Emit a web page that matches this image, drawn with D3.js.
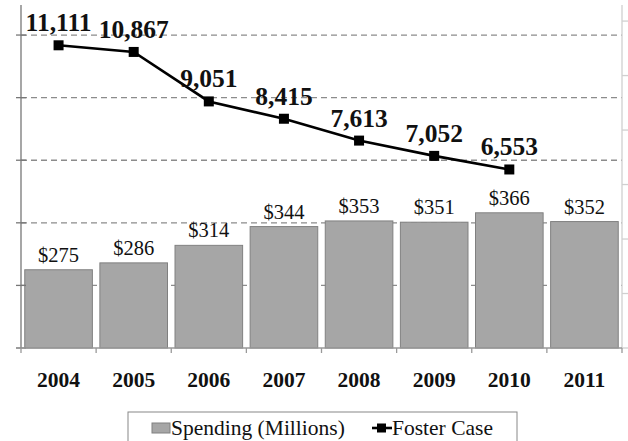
<!DOCTYPE html>
<html><head><meta charset="utf-8">
<script src="https://cdn.jsdelivr.net/npm/d3@7"></script>
<style>body{margin:0;background:#fff}svg{display:block}
svg text{font-family:"Liberation Serif","Times New Roman",Tinos,"DejaVu Serif",serif}</style>
</head><body><svg id="c" width="628" height="441"></svg>
<script>
const years = ["2004","2005","2006","2007","2008","2009","2010","2011"];
const spending = [275, 286, 314, 344, 353, 351, 366, 352];
const spendingLabels = ["$275","$286","$314","$344","$353","$351","$366","$352"];
const fosterYears = ["2004","2005","2006","2007","2008","2009","2010"];
const fosterCases = [11111, 10867, 9051, 8415, 7613, 7052, 6553];
const leftTicks = [150, 250, 350, 450, 550, 650];
const rightTicks = [0, 2000, 4000, 6000, 8000, 10000, 12000];
const legendLabels = ["Spending (Millions)", "Foster Case"];

const svg = d3.select("#c");
const L = 21, R = 622, B = 348, T = 5;

const x = d3.scaleBand().domain(years).range([L, R]).paddingInner(0.1).paddingOuter(0.05);
const yL = d3.scaleLinear().domain([150, 698]).range([B, T]);
const yR = d3.scaleLinear().domain([0, 12590]).range([B, T]);

// gridlines
svg.append("g").selectAll("line").data(leftTicks.filter(d => d > 150)).join("line")
  .attr("x1", L).attr("x2", R).attr("y1", d => yL(d)).attr("y2", d => yL(d))
  .attr("stroke", "#8c8c8c").attr("stroke-width", 1.3).attr("stroke-dasharray", "6,4");

// bars
svg.append("g").selectAll("rect").data(spending).join("rect")
  .attr("x", (d, i) => x(years[i])).attr("width", x.bandwidth())
  .attr("y", d => yL(d)).attr("height", d => B - yL(d))
  .attr("fill", "#a6a6a6").attr("stroke", "#808080").attr("stroke-width", 1);

// left axis
const gl = svg.append("g");
gl.append("line").attr("x1", L).attr("x2", L).attr("y1", T).attr("y2", B).attr("stroke", "#777").attr("stroke-width", 1.3);
gl.selectAll("line.t").data(leftTicks).join("line").attr("class", "t")
  .attr("x1", L - 5).attr("x2", L + 5).attr("y1", d => yL(d)).attr("y2", d => yL(d))
  .attr("stroke", "#777").attr("stroke-width", 1.3);

// right axis
const gr = svg.append("g");
gr.append("line").attr("x1", R).attr("x2", R).attr("y1", T).attr("y2", B).attr("stroke", "#d0d0d0").attr("stroke-width", 1.3);
gr.selectAll("line.t").data(rightTicks).join("line").attr("class", "t")
  .attr("x1", R).attr("x2", R + 6).attr("y1", d => yR(d)).attr("y2", d => yR(d))
  .attr("stroke", "#d0d0d0").attr("stroke-width", 1.3);

// bottom axis
const gb = svg.append("g");
gb.append("line").attr("x1", L - 5).attr("x2", R).attr("y1", B).attr("y2", B).attr("stroke", "#999").attr("stroke-width", 1.3);
const bounds = years.map(y => x(y) - x.step() * x.paddingInner() / 2).concat([R]);
bounds[0] = L;
gb.selectAll("line.t").data(bounds).join("line").attr("class", "t")
  .attr("x1", d => d).attr("x2", d => d).attr("y1", B).attr("y2", B + 5)
  .attr("stroke", "#999").attr("stroke-width", 1.3);
gb.selectAll("text").data(years).join("text")
  .attr("x", d => x(d) + x.bandwidth() / 2).attr("y", 387)
  .attr("text-anchor", "middle").attr("font-weight", "bold")
  .attr("font-size", 21.5).attr("fill", "#111").text(d => d);

// bar labels
svg.append("g").selectAll("text").data(spending).join("text")
  .attr("x", (d, i) => x(years[i]) + x.bandwidth() / 2).attr("y", d => yL(d) - 8)
  .attr("text-anchor", "middle").attr("font-size", 20.5)
  .attr("fill", "#111").text((d, i) => spendingLabels[i]);

// line
const cx = (i) => x(fosterYears[i]) + x.bandwidth() / 2;
const line = d3.line().x((d, i) => cx(i)).y(d => yR(d));
svg.append("path").datum(fosterCases).attr("d", line)
  .attr("fill", "none").attr("stroke", "#000").attr("stroke-width", 2.6);
svg.append("g").selectAll("rect").data(fosterCases).join("rect")
  .attr("x", (d, i) => cx(i) - 5).attr("y", d => yR(d) - 5).attr("width", 10).attr("height", 10)
  .attr("fill", "#000");
svg.append("g").selectAll("text").data(fosterCases).join("text")
  .attr("x", (d, i) => cx(i)).attr("y", d => yR(d) - 14)
  .attr("text-anchor", "middle").attr("font-weight", "bold")
  .attr("font-size", 25.5).attr("fill", "#111").text(d => d3.format(",")(d));

// legend
const lg = svg.append("g");
lg.append("rect").attr("x", 128).attr("y", 412).attr("width", 389).attr("height", 40)
  .attr("fill", "#fff").attr("stroke", "#888").attr("stroke-width", 1);
lg.append("rect").attr("x", 152).attr("y", 423).attr("width", 18).attr("height", 10)
  .attr("fill", "#a6a6a6").attr("stroke", "#808080");
lg.append("text").attr("x", 171).attr("y", 435).attr("font-size", 21.5)
  .attr("fill", "#111").text(legendLabels[0]);
lg.append("line").attr("x1", 372).attr("x2", 392).attr("y1", 428).attr("y2", 428)
  .attr("stroke", "#000").attr("stroke-width", 2.6);
lg.append("rect").attr("x", 377).attr("y", 423.5).attr("width", 9).attr("height", 9).attr("fill", "#000");
lg.append("text").attr("x", 392).attr("y", 435).attr("font-size", 21.5)
  .attr("fill", "#111").text(legendLabels[1]);
</script></body></html>
